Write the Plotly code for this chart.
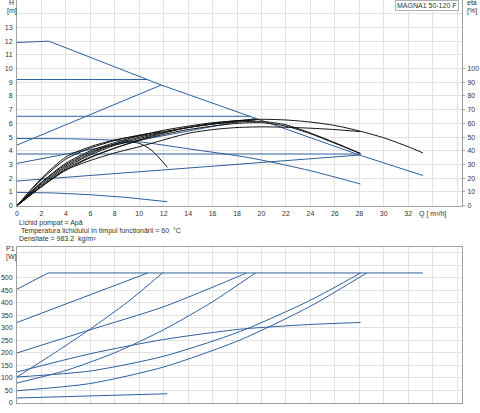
import plotly.graph_objects as go

# ---------------- data ----------------
# Q-H curves (m3/h, m)
q_max = [0, 2.6, 11.8, 19.1, 28, 33.2]
h_max = [11.9, 12.0, 8.8, 6.5, 3.7, 2.2]
q_cp3 = [0, 10.7]
h_cp3 = [9.2, 9.2]
q_cp2 = [0, 19.1]
h_cp2 = [6.52, 6.52]
q_cp1 = [0, 28.1]
h_cp1 = [3.77, 3.77]
q_pp3 = [0, 11.8]
h_pp3 = [4.42, 8.8]
q_pp2 = [0, 19.5]
h_pp2 = [3.09, 6.37]
q_pp1 = [0, 28.1]
h_pp1 = [1.8, 3.7]
q_c2 = [0, 4, 8, 10, 14, 19, 24, 28.1]
h_c2 = [4.9, 4.88, 4.78, 4.66, 4.15, 3.5, 2.55, 1.58]
q_min = [0, 3, 6, 9, 12.3]
h_min = [0.97, 0.93, 0.8, 0.6, 0.29]

# efficiency curves (%)
qe_max = [0, 2, 4, 6, 8, 10, 12, 14, 16, 18, 20, 22, 24, 26, 28, 30, 32, 33.2]
e_max = [0, 14, 26, 35, 42, 48, 53, 57, 60, 62, 63, 62.5, 61, 58.5, 54.5, 49.5, 43, 38.5]
qe_cp3 = [0, 2, 4, 6, 8, 10.7]
e_cp3 = [0, 20, 35.5, 43, 48, 52]
qe_pp3 = [0, 2, 4, 6, 8, 10, 11.8]
e_pp3 = [0, 19, 34, 42, 47.5, 51.5, 54]
qe_cp2 = [0, 2, 4, 6, 8, 10, 12, 14, 16, 18, 19.1]
e_cp2 = [0, 17, 31, 40, 46, 51, 55, 58, 60.5, 62, 62.5]
qe_pp2 = [0, 2, 4, 6, 8, 10, 12, 14, 16, 18, 19.5]
e_pp2 = [0, 16, 29, 38, 45, 50, 54, 57, 59.5, 61.5, 62.5]
qe_cp1 = [0, 2, 4, 6, 8, 10, 12, 14, 16, 18, 20, 22, 24, 26, 28.1]
e_cp1 = [0, 15, 28, 37, 44, 49, 53.5, 57, 59.5, 61, 61.5, 59, 53, 46, 38]
qe_pp1 = [0, 2, 4, 6, 8, 10, 12, 14, 16, 18, 20, 22, 24, 26, 28.1]
e_pp1 = [0, 14, 27, 35.5, 42, 47.5, 52, 55.5, 58, 60, 60.5, 58, 52.5, 45.5, 38]
qe_c2 = [0, 2, 4, 6, 8, 10, 12, 14, 16, 18, 20, 22, 24, 26, 28.1]
e_c2 = [0, 13.8, 26, 33, 38.5, 43, 48, 52.8, 55.5, 57, 57.5, 57.2, 56.5, 55.5, 54]
qe_min = [0, 2, 4, 6, 8, 9, 10, 11, 12.3]
e_min = [0, 17, 30, 39, 45, 46.5, 45.5, 40.5, 28]

# P1 curves (W)
qp_max = [0, 2.55, 33.2]
p_max = [455, 520, 520]
qp_cp3 = [0, 10.7]
p_cp3 = [322, 520]
qp_cp2 = [0, 5.8, 12, 18.2, 18.75]
p_cp2 = [200, 290, 385, 508, 520]
qp_pp3 = [0, 3, 6, 9, 11.9]
p_pp3 = [104, 198, 296, 402, 520]
qp_pp2 = [0, 4, 8, 12, 16, 19.5]
p_pp2 = [80, 130, 201, 293, 405, 520]
qp_c2 = [0, 6, 12, 18.25, 24, 28.1]
p_c2 = [124, 197, 254, 295, 314, 322]
qp_cp1 = [0, 6, 12, 18.25, 24, 28.1]
p_cp1 = [104, 128, 187, 286, 411, 520]
qp_pp1 = [0, 6, 12, 18.25, 24, 28.6]
p_pp1 = [49, 78, 144, 252, 387, 520]
qp_min = [0, 12.3]
p_min = [20, 37]

x_ticks = list(range(0, 37, 2))
x_ticktext = [str(v) for v in range(0, 33, 2)] + ["Q [ m³/h]", ""]
h_ticks = list(range(0, 15))
h_ticktext = [str(v) for v in range(0, 14)] + [""]
eta_ticks = list(range(0, 101, 10))
p_ticks = list(range(0, 601, 50))
p_ticktext = [str(v) for v in range(0, 501, 50)] + ["", ""]

# ---------------- figure ----------------
BLUE = "#2d5f9a"
BLACK = "#111111"
GRID = "#e2e2e2"
AX = "#a0a0a0"
TXT = "#333333"
FONT = "Arial, Liberation Sans, sans-serif"

fig = go.Figure()

def add(q, v, xa, ya, color, spline=False):
    line = dict(color=color, width=1)
    if spline:
        line.update(shape="spline", smoothing=0.7)
    fig.add_trace(go.Scatter(x=q, y=v, mode="lines", xaxis=xa, yaxis=ya, line=line,
                             hoverinfo="skip", showlegend=False))

for q, h in [(q_max, h_max), (q_cp3, h_cp3), (q_cp2, h_cp2), (q_cp1, h_cp1), (q_pp3, h_pp3),
             (q_pp2, h_pp2), (q_pp1, h_pp1), (q_min, h_min)]:
    add(q, h, "x", "y", BLUE)
add(q_c2, h_c2, "x", "y", BLUE, spline=True)

for q, e in [(qe_max, e_max), (qe_cp3, e_cp3), (qe_pp3, e_pp3), (qe_cp2, e_cp2), (qe_pp2, e_pp2),
             (qe_cp1, e_cp1), (qe_pp1, e_pp1), (qe_c2, e_c2), (qe_min, e_min)]:
    add(q, e, "x", "y2", BLACK, spline=True)

for q, p in [(qp_max, p_max), (qp_cp3, p_cp3)]:
    add(q, p, "x2", "y3", BLUE)
for q, p in [(qp_cp2, p_cp2), (qp_pp3, p_pp3), (qp_pp2, p_pp2), (qp_c2, p_c2),
             (qp_cp1, p_cp1), (qp_pp1, p_pp1), (qp_min, p_min)]:
    add(q, p, "x2", "y3", BLUE, spline=True)

L, R, T, B = 17, 18, 0, 10
W, H = 480, 413
PW, PH = W - L - R, H - T - B

def px(x):
    return (x - L) / PW

def py(y):
    return 1 - (y - T) / PH

top_dom = [py(205.7), 1]
bot_dom = [0, py(246.7)]

tf = dict(family=FONT, size=7, color=TXT)
xcommon = dict(range=[0, 36.4], showgrid=True, gridcolor=GRID, gridwidth=1, zeroline=False,
               showline=True, linecolor=AX, linewidth=1, mirror=True, ticks="", tickfont=tf,
               fixedrange=True)

fig.update_layout(
    width=W, height=H, margin=dict(l=L, r=R, t=T, b=B),
    paper_bgcolor="white", plot_bgcolor="white", showlegend=False,
    xaxis=dict(xcommon, domain=[0, 1], anchor="y", tickvals=x_ticks, ticktext=x_ticktext,
               ticklabelstandoff=1),
    yaxis=dict(domain=top_dom, range=[0, 15], tickvals=h_ticks, ticktext=h_ticktext,
               showgrid=True, gridcolor=GRID, zeroline=False, showline=True, linecolor=AX,
               mirror=True, ticks="", tickfont=tf, fixedrange=True, ticklabelstandoff=2),
    yaxis2=dict(overlaying="y", side="right", range=[0, 150], tickvals=eta_ticks,
                showgrid=False, zeroline=False, showline=False, ticks="outside", ticklen=2,
                tickcolor=AX, tickfont=tf, fixedrange=True, anchor="x", ticklabelstandoff=1),
    xaxis2=dict(xcommon, domain=[0, 1], anchor="y3", tickvals=list(range(0, 37, 2)),
                showticklabels=False),
    yaxis3=dict(domain=bot_dom, range=[0, 625], tickvals=p_ticks, ticktext=p_ticktext,
                showgrid=True, gridcolor=GRID, zeroline=False, showline=True, linecolor=AX,
                mirror=True, ticks="", tickfont=tf, fixedrange=True, anchor="x2",
                ticklabelstandoff=2),
)

def ann(x, y, text, xanchor="left", size=7):
    fig.add_annotation(x=px(x), y=py(y), xref="paper", yref="paper", text=text,
                       showarrow=False, xanchor=xanchor, yanchor="middle",
                       font=dict(family=FONT, size=size, color=TXT))

ann(7, 3, "H")
ann(5, 11, "[m]")
ann(4, 249, "P1")
ann(4, 257, "[W]")
ann(465, 3, "eta")
ann(465, 11, "[%]")
ann(17, 223, "Lichid pompat = Apă")
ann(19, 231, "Temperatura lichidului în timpul funcționării = 60  °C")
ann(17, 239, "Densitate = 983.2  kg/m³")

fig.add_annotation(x=px(459), y=py(5), xref="paper", yref="paper", text="MAGNA1 50-120 F",
                   showarrow=False, xanchor="right", yanchor="middle",
                   font=dict(family=FONT, size=7, color=TXT),
                   bgcolor="white", bordercolor="#b0b0b0", borderwidth=1, borderpad=1)

fig.write_html("out.html", config={"displayModeBar": False, "staticPlot": True},
               post_script="document.body.style.margin='0';document.body.style.padding='0';")
